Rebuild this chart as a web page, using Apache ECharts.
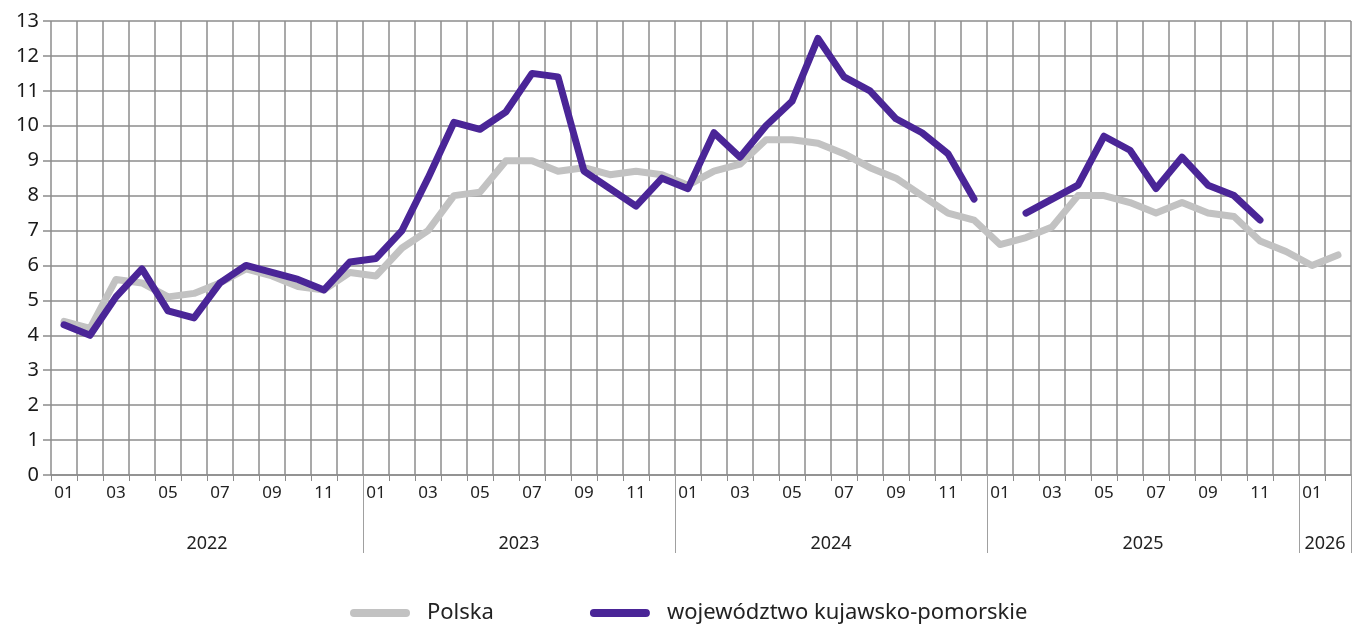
<!DOCTYPE html>
<html>
<head>
<meta charset="utf-8">
<script src="https://cdn.jsdelivr.net/npm/echarts@6/dist/echarts.min.js"></script>
<style>
  html, body { margin: 0; padding: 0; background: #fff; }
  #chart { width: 1354px; height: 625px; }
</style>
</head>
<body>
<div id="chart"></div>
<script>
// months 2022-01 .. 2026-02
var months = ['01','02','03','04','05','06','07','08','09','10','11','12',
              '01','02','03','04','05','06','07','08','09','10','11','12',
              '01','02','03','04','05','06','07','08','09','10','11','12',
              '01','02','03','04','05','06','07','08','09','10','11','12',
              '01','02'];
var years = ['2022','2023','2024','2025','2026'];
var yearPos = [6, 18, 30, 42, 49];  // label position in month units
var yearBreaks = [12, 24, 36, 48];

var polska = [4.4,4.2,5.6,5.5,5.1,5.2,5.5,5.9,5.7,5.4,5.3,5.8,
              5.7,6.5,7.0,8.0,8.1,9.0,9.0,8.7,8.8,8.6,8.7,8.6,
              8.3,8.7,8.9,9.6,9.6,9.5,9.2,8.8,8.5,8.0,7.5,7.3,
              6.6,6.8,7.1,8.0,8.0,7.8,7.5,7.8,7.5,7.4,6.7,6.4,
              6.0,6.3];
var kujPom = [4.3,4.0,5.1,5.9,4.7,4.5,5.5,6.0,5.8,5.6,5.3,6.1,
              6.2,7.0,8.5,10.1,9.9,10.4,11.5,11.4,8.7,8.2,7.7,8.5,
              8.2,9.8,9.1,10.0,10.7,12.5,11.4,11.0,10.2,9.8,9.2,7.9,
              null,7.5,7.9,8.3,9.7,9.3,8.2,9.1,8.3,8.0,7.3,null,
              null,null];

var gridColor = '#8c8c8c';
var font = 'Noto Sans';

var myChart = echarts.init(document.getElementById('chart'));
myChart.setOption({
  animation: false,
  textStyle: { fontFamily: font },
  grid: { left: 51, right: 0, top: 21, bottom: 150, containLabel: false },
  legend: {
    top: 597,
    left: 345,
    icon: 'path://M4,0 L56,0 A4,4 0 0 1 56,8 L4,8 A4,4 0 0 1 4,0 Z',
    itemWidth: 60,
    itemHeight: 9,
    itemGap: 96,
    textStyle: { fontSize: 22, color: '#222', fontFamily: font, padding: [0, 0, 0, 12] },
    data: ['Polska', 'województwo kujawsko-pomorskie']
  },
  xAxis: [{
    type: 'category',
    data: months,
    boundaryGap: true,
    axisLine: { lineStyle: { color: gridColor, width: 1.5 } },
    axisTick: { show: true, interval: 0, length: 6, lineStyle: { color: gridColor } },
    axisLabel: { interval: 1, fontSize: 17, color: '#222', margin: 10 },
    splitLine: { show: true, interval: 0, lineStyle: { color: gridColor, width: 1.5 } }
  }, {
    // year separators
    type: 'category',
    data: months,
    position: 'bottom',
    boundaryGap: true,
    axisLine: { show: false },
    axisLabel: { show: false },
    axisTick: {
      show: true,
      length: 78,
      interval: function (i) { return yearBreaks.indexOf(i) >= 0; },
      lineStyle: { color: '#a0a0a0', width: 1 }
    },
    splitLine: { show: false }
  }, {
    // year labels
    type: 'value',
    min: 0,
    max: months.length,
    interval: 1,
    position: 'bottom',
    axisLine: { show: false },
    axisTick: { show: false },
    splitLine: { show: false },
    axisLabel: {
      margin: 60,
      fontSize: 18,
      color: '#222',
      formatter: function (v) {
        var k = yearPos.indexOf(v);
        return k >= 0 ? years[k] : '';
      }
    }
  }],
  yAxis: {
    type: 'value',
    min: 0,
    max: 13,
    interval: 1,
    axisLine: { show: false },
    axisTick: { show: true, length: 8, lineStyle: { color: gridColor, width: 1.5 } },
    axisLabel: { fontSize: 20, color: '#1a1a1a', margin: 12 },
    splitLine: { show: true, lineStyle: { color: gridColor, width: 1.5 } }
  },
  series: [{
    name: 'Polska',
    type: 'line',
    data: polska,
    symbol: 'none',
    color: '#c2c2c2',
    lineStyle: { width: 7, color: '#c2c2c2', cap: 'round', join: 'round' }
  }, {
    name: 'województwo kujawsko-pomorskie',
    type: 'line',
    data: kujPom,
    symbol: 'none',
    connectNulls: false,
    color: '#4a2597',
    lineStyle: { width: 7, color: '#4a2597', cap: 'round', join: 'round' }
  }]
});
</script>
</body>
</html>
